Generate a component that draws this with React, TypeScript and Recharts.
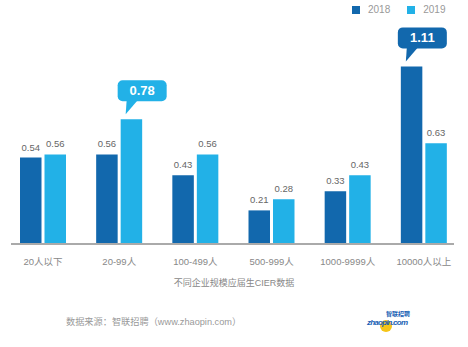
import { BarChart, Bar, XAxis, YAxis, LabelList } from 'recharts'

const categories = ['20人以下', '20-99人', '100-499人', '500-999人', '1000-9999人', '10000人以上']
const values2018 = [0.54, 0.56, 0.43, 0.21, 0.33, 1.11]
const values2019 = [0.56, 0.78, 0.56, 0.28, 0.43, 0.63]
// which bar of each series gets the speech-bubble label
const callout2018 = 5
const callout2019 = 1

const DARK = '#1268ad'
const LIGHT = '#22b1e7'
const FONT = '"Liberation Sans", Arial, "Noto Sans CJK SC", sans-serif'

const data = categories.map((name, i) => ({
    name,
    y2018: values2018[i],
    y2019: values2019[i],
}))

function makeLabel(color: string, calloutIndex: number) {
    return (props: any) => {
        const { x, y, width, value, index } = props
        if (index === calloutIndex) {
            const bx = x - 3
            const by = y - 39
            return (
                <g>
                    <rect x={bx} y={by} width={49} height={21} rx={5} fill={color} />
                    <path d={`M${x + 6} ${by + 20} L${x + 17} ${by + 20} L${x + 5} ${y - 5} Z`} fill={color} />
                    <text x={bx + 24.5} y={by + 15} textAnchor="middle" fill="#fff" fontSize={13} fontWeight={700} fontFamily={FONT}>
                        {value.toFixed(2)}
                    </text>
                </g>
            )
        }
        return (
            <text x={x + width / 2} y={y - 7} textAnchor="middle" fill="#666" fontSize={9.5} fontFamily={FONT}>
                {value.toFixed(2)}
            </text>
        )
    }
}

const legendItems = [
    { label: '2018', color: DARK },
    { label: '2019', color: LIGHT },
]

export default function App() {
    return (
        <div style={{ position: 'absolute', left: 0, top: 0, width: 468, height: 347, background: '#fff', fontFamily: FONT }}>
            <BarChart
                width={468}
                height={347}
                data={data}
                margin={{ top: 20, right: 6, left: 5, bottom: 73 }}
                barGap={3}
                barSize={21.5}
            >
                <XAxis
                    dataKey="name"
                    axisLine={false}
                    tickLine={false}
                    tickMargin={8}
                    interval={0}
                    tick={{ fill: '#888', fontSize: 9.5, fontFamily: FONT }}
                />
                <YAxis hide domain={[0, 1.4]} />
                <Bar dataKey="y2018" fill={DARK} isAnimationActive={false}>
                    <LabelList dataKey="y2018" content={makeLabel(DARK, callout2018)} />
                </Bar>
                <Bar dataKey="y2019" fill={LIGHT} isAnimationActive={false}>
                    <LabelList dataKey="y2019" content={makeLabel(LIGHT, callout2019)} />
                </Bar>
            </BarChart>
            {/* legend */}
            <div style={{ position: 'absolute', left: 352, top: 4, display: 'flex', fontSize: 10, color: '#999' }}>
                {legendItems.map(it => (
                    <div key={it.label} style={{ display: 'flex', alignItems: 'center', marginRight: 17 }}>
                        <span style={{ width: 8, height: 8, background: it.color, display: 'inline-block', marginRight: 8 }} />
                        {it.label}
                    </div>
                ))}
            </div>
            {/* axis line is shorter than the plot area in the original */}
            <div style={{ position: 'absolute', left: 11, top: 243, width: 443, height: 2, background: '#aaa' }} />
            <div style={{ position: 'absolute', left: 0, width: 468, top: 276, textAlign: 'center', fontSize: 9, color: '#888' }}>
                不同企业规模应届生CIER数据
            </div>
            <div style={{ position: 'absolute', left: 66, top: 314, fontSize: 9.2, color: '#999' }}>
                数据来源：智联招聘（www.zhaopin.com）
            </div>
            <svg style={{ position: 'absolute', left: 366, top: 309 }} width={48} height={24}>
                <circle cx={20} cy={17} r={6} fill="#f5c518" />
                <text x={20} y={7} fontSize={6} fontWeight={700} fill="#1a5fb4" fontFamily='"Noto Sans CJK SC"'>智联招聘</text>
                <text x={1} y={16} fontSize={8} fontWeight={700} fontStyle="italic" fill="#1a5fb4" fontFamily={FONT} textLength={41}>zhaopin.com</text>
            </svg>
        </div>
    )
}
